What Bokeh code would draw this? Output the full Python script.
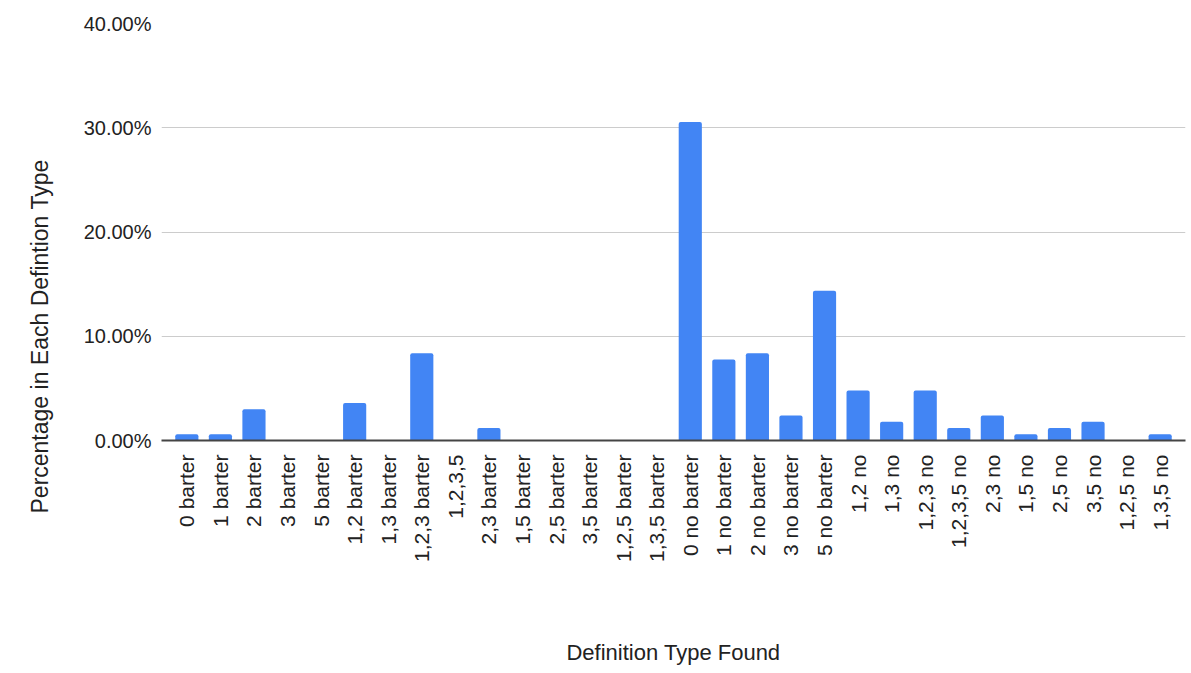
import math

from bokeh.embed import file_html
from bokeh.models import FactorRange, FixedTicker, PrintfTickFormatter, Range1d, Title
from bokeh.plotting import figure
from bokeh.resources import INLINE

# Definition types, in the order they appear along the x axis
categories = [
    "0 barter", "1 barter", "2 barter", "3 barter", "5 barter",
    "1,2 barter", "1,3 barter", "1,2,3 barter", "1,2,3,5", "2,3 barter",
    "1,5 barter", "2,5 barter", "3,5 barter", "1,2,5 barter", "1,3,5 barter",
    "0 no barter", "1 no barter", "2 no barter", "3 no barter", "5 no barter",
    "1,2 no", "1,3 no", "1,2,3 no", "1,2,3,5 no", "2,3 no",
    "1,5 no", "2,5 no", "3,5 no", "1,2,5 no", "1,3,5 no",
]

# Share of sources in each definition type, in percent
percentages = [
    0.60, 0.60, 2.99, 0.00, 0.00,
    3.59, 0.00, 8.38, 0.00, 1.20,
    0.00, 0.00, 0.00, 0.00, 0.00,
    30.54, 7.78, 8.38, 2.40, 14.37,
    4.79, 1.80, 4.79, 1.20, 2.40,
    0.60, 1.20, 1.80, 0.00, 0.60,
]

y_ticks = [0, 10, 20, 30, 40]

FONT = "Liberation Sans"
TEXT = "#222222"

p = figure(
    x_range=FactorRange(*categories, range_padding=0.017),
    y_range=Range1d(0, 40),
    width=1191,
    height=673,
    output_backend="svg",
    toolbar_location=None,
    min_border_left=160,
    min_border_right=6,
    min_border_top=23,
    min_border_bottom=233,
)
p.outline_line_color = None
p.background_fill_color = "white"
p.border_fill_color = "white"

p.vbar(
    x=categories,
    top=percentages,
    width=0.69,
    fill_color="#4285F4",
    line_color=None,
    border_radius=(2, 2, 0, 0),
)

# Horizontal grid only
p.xgrid.grid_line_color = None
p.ygrid.grid_line_color = "#cccccc"
p.ygrid.grid_line_width = 1

# y axis: percentage ticks, no axis line
p.yaxis.ticker = FixedTicker(ticks=y_ticks)
p.yaxis.formatter = PrintfTickFormatter(format="%.2f%%")
p.yaxis.axis_line_color = None
p.yaxis.major_tick_line_color = None
p.yaxis.major_tick_out = 0
p.yaxis.minor_tick_line_color = None
p.yaxis.major_label_standoff = 10
p.yaxis.major_label_text_font = FONT
p.yaxis.major_label_text_font_size = "20px"
p.yaxis.major_label_text_color = TEXT

# x axis: vertical category labels and the axis title
p.xaxis.axis_line_color = "#444444"
p.xaxis.axis_line_width = 2
p.xaxis.major_tick_line_color = None
p.xaxis.major_tick_out = 0
p.xaxis.major_label_standoff = 14
p.xaxis.major_label_orientation = math.pi / 2
p.xaxis.major_label_text_font = FONT
p.xaxis.major_label_text_font_size = "21px"
p.xaxis.major_label_text_color = TEXT
p.xaxis.axis_label = "Definition Type Found"
p.xaxis.axis_label_text_font = FONT
p.xaxis.axis_label_text_font_size = "22px"
p.xaxis.axis_label_text_font_style = "normal"
p.xaxis.axis_label_text_color = TEXT
p.xaxis.axis_label_standoff = 75

# y axis title on the left side, shifted below the frame centre
p.add_layout(
    Title(
        text="Percentage in Each Defintion Type",
        align="left",
        vertical_align="top",
        offset=-73,
        standoff=52,
        text_font=FONT,
        text_font_size="23px",
        text_font_style="normal",
        text_color=TEXT,
    ),
    "left",
)

open("out.html", "w").write(file_html(p, INLINE))
